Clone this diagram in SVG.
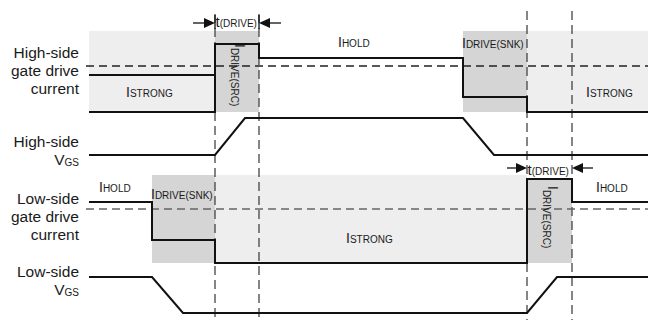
<svg xmlns="http://www.w3.org/2000/svg" width="650" height="320" viewBox="0 0 650 320">
<style>
  text { font-family: "Liberation Sans", Arial, sans-serif; fill: #1a1a1a; }
  .lbl { font-size: 15.5px; text-anchor: end; }
  .in { font-size: 14px; }
  .sub { font-size: 10px; }
  .light { fill: #eeeeee; }
  .dark { fill: #d5d5d5; }
  .wave { fill: none; stroke: #111; stroke-width: 2; }
  .vdash { stroke: #444; stroke-width: 1.3; stroke-dasharray: 9 5; fill: none; }
  .hdash1 { stroke: #222; stroke-width: 1.3; stroke-dasharray: 8 5; fill: none; }
  .hdash2 { stroke: #666; stroke-width: 1.3; stroke-dasharray: 8 5; fill: none; }
  .arr { stroke: #111; stroke-width: 1.3; fill: none; }
  .head { fill: #111; }
</style>
<rect width="650" height="320" fill="#ffffff"/>

<g id="shading">
  <rect class="light" x="89" y="31" width="126" height="81"/>
  <rect class="dark" x="215" y="31" width="44" height="81"/>
  <rect class="dark" x="463" y="31" width="64" height="81"/>
  <rect class="light" x="527" y="31" width="121" height="81"/>
  <rect class="dark" x="152" y="175" width="63" height="88"/>
  <rect class="light" x="215" y="175" width="312" height="88"/>
  <rect class="dark" x="527" y="178" width="45" height="85"/>
</g>

<g id="connectors">
  <line class="vdash" x1="215" y1="14" x2="215" y2="320"/>
  <line class="vdash" x1="259" y1="14" x2="259" y2="320"/>
  <line class="vdash" x1="527" y1="11" x2="527" y2="320"/>
  <line class="vdash" x1="572" y1="11" x2="572" y2="320"/>
  <line class="hdash1" x1="86" y1="66" x2="648" y2="66"/>
  <line class="hdash2" x1="86" y1="209" x2="648" y2="209"/>
  <line x1="215" y1="15" x2="215" y2="29" stroke="#111" stroke-width="1.3"/>
  <line x1="259" y1="15" x2="259" y2="29" stroke="#111" stroke-width="1.3"/>
  <line class="arr" x1="193" y1="23" x2="206" y2="23"/>
  <polygon class="head" points="204,18 215,23 204,28"/>
  <line class="arr" x1="268" y1="23" x2="281" y2="23"/>
  <polygon class="head" points="270,18 259,23 270,28"/>
  <line class="arr" x1="507" y1="168" x2="518" y2="168"/>
  <polygon class="head" points="516,163 527,168 516,173"/>
  <line class="arr" x1="581" y1="168" x2="593" y2="168"/>
  <polygon class="head" points="583,163 572,168 583,173"/>
</g>

<g id="hs-current">
  <polyline class="wave" points="89,75 215,75"/>
  <polyline class="wave" points="89,112 215,112 215,44 259,44 259,58 463,58 463,97 527,97 527,112 648,112"/>
</g>
<g id="hs-vgs">
  <polyline class="wave" points="89,155 215,155 245,118 463,118 494,155 648,155"/>
</g>
<g id="ls-current">
  <polyline class="wave" points="89,202 152,202 152,240 215,240 215,263 527,263 527,179 572,179 572,202 648,202"/>
</g>
<g id="ls-vgs">
  <polyline class="wave" points="89,277 152,277 183,313 527,313 557,277 648,277"/>
</g>

<g id="labels">
  <text class="lbl" x="79" y="58">High-side</text>
  <text class="lbl" x="79" y="76">gate drive</text>
  <text class="lbl" x="79" y="94">current</text>
  <text class="lbl" x="79" y="147">High-side</text>
  <text class="lbl" x="79" y="165">V<tspan class="sub" dy="1">GS</tspan></text>
  <text class="lbl" x="79" y="204">Low-side</text>
  <text class="lbl" x="79" y="222">gate drive</text>
  <text class="lbl" x="79" y="240">current</text>
  <text class="lbl" x="79" y="277">Low-side</text>
  <text class="lbl" x="79" y="295">V<tspan class="sub" dy="1">GS</tspan></text>
</g>

<g id="inner-labels">
  <text x="215.5" y="27" style="font-size:15px">t<tspan class="sub">(DRIVE)</tspan></text>
  <text x="527.5" y="175" style="font-size:15px">t<tspan class="sub">(DRIVE)</tspan></text>
  <text class="in" x="126" y="97">I<tspan class="sub">STRONG</tspan></text>
  <text class="in" x="338" y="47">I<tspan class="sub">HOLD</tspan></text>
  <text class="in" x="462" y="48">I<tspan class="sub">DRIVE(SNK)</tspan></text>
  <text class="in" x="586" y="97">I<tspan class="sub">STRONG</tspan></text>
  <text class="in" x="99" y="192">I<tspan class="sub">HOLD</tspan></text>
  <text class="in" x="151" y="199">I<tspan class="sub">DRIVE(SNK)</tspan></text>
  <text class="in" x="346" y="243">I<tspan class="sub">STRONG</tspan></text>
  <text class="in" x="596" y="192">I<tspan class="sub">HOLD</tspan></text>
  <text class="in" transform="translate(235,44) rotate(90)">I<tspan class="sub" dy="4">DRIVE(SRC)</tspan></text>
  <text class="in" transform="translate(548,186) rotate(90)">I<tspan class="sub" dy="5">DRIVE(SRC)</tspan></text>
</g>
</svg>
